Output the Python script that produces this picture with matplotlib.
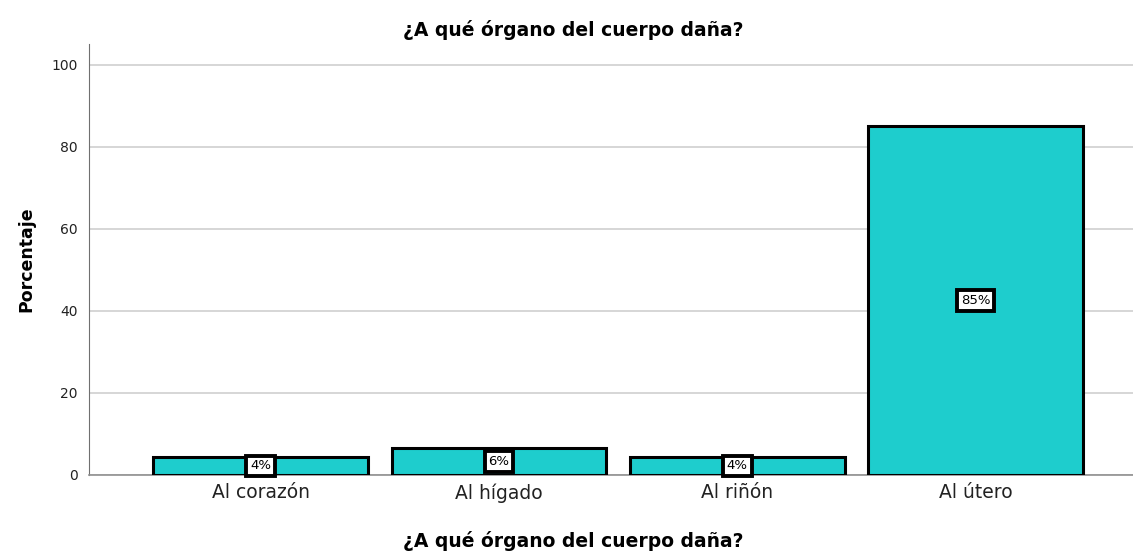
import matplotlib
matplotlib.use("Agg")
import matplotlib.pyplot as plt

plt.rcParams["font.family"] = ["DejaVu Sans"]

# data
categories = ["Al corazón", "Al hígado", "Al riñón", "Al útero"]
percent = [4.4, 6.5, 4.4, 85.0]
labels = ["4%", "6%", "4%", "85%"]

title = "¿A qué órgano del cuerpo daña?"

fig = plt.figure(figsize=(11.33, 5.51), dpi=100)
ax = fig.add_axes([0.0786, 0.138, 0.9214, 0.782])

x = range(len(categories))
bars = ax.bar(x, percent, width=0.9, color="#1ECDCD", edgecolor="black",
              linewidth=2.2, zorder=3)

for b, lab in zip(bars, labels):
    ax.text(b.get_x() + b.get_width() / 2, b.get_height() / 2, lab,
            ha="center", va="center", fontsize=9.5, zorder=4,
            bbox=dict(boxstyle="square,pad=0.28", facecolor="white",
                      edgecolor="black", linewidth=2.8))

ax.set_xlim(-0.72, 3.66)
ax.set_ylim(0, 105)
ax.set_yticks([0, 20, 40, 60, 80, 100])
ax.set_xticks(list(x))
ax.set_xticklabels(categories, fontsize=13.5)
ax.tick_params(axis="y", labelsize=10, length=0, pad=8, labelcolor="#222222")
ax.tick_params(axis="x", length=0, pad=6, labelcolor="#222222")
ax.yaxis.grid(True, color="#d0d0d0", linewidth=1.2, zorder=0)
ax.set_axisbelow(True)

for s in ["top", "right"]:
    ax.spines[s].set_visible(False)
ax.spines["left"].set_color("#707070")
ax.spines["bottom"].set_color("#909090")
ax.spines["bottom"].set_linewidth(1.2)

ax.set_ylabel("Porcentaje", fontsize=12.5, fontweight="bold", labelpad=12)
fig.text(0.506, 0.945, title, ha="center", va="center",
         fontsize=13.5, fontweight="bold")
fig.text(0.506, 0.018, title, ha="center", va="center",
         fontsize=13.5, fontweight="bold")

fig.savefig("out.png", dpi=100)
